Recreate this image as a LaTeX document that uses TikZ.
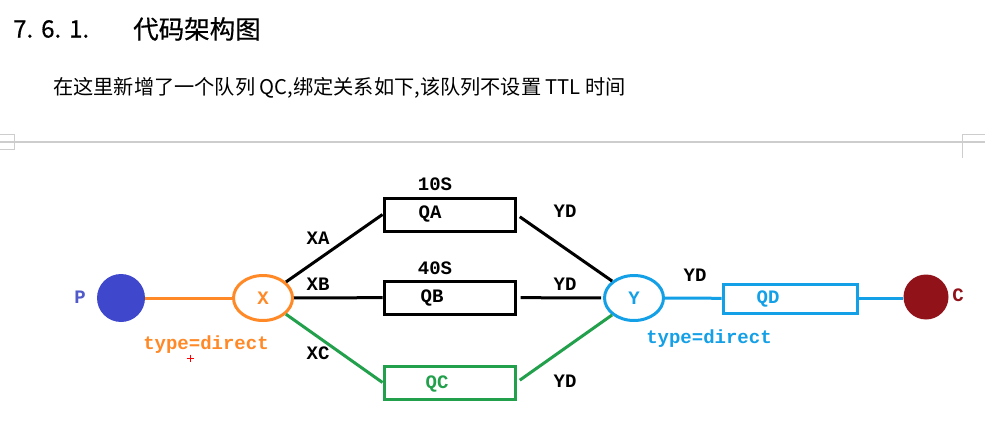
\documentclass[tikz,border=0pt]{standalone}
\usepackage{fontspec}
\setmainfont{Liberation Sans}
\newfontfamily\cjk{Noto Sans CJK SC}
\newfontfamily\cjkhead{Noto Sans CJK SC}[FakeBold=0.6]
\newfontfamily\monob{Liberation Mono}[BoldFont={Liberation Mono Bold}]
\usetikzlibrary{shapes.geometric}
\definecolor{pblue}{RGB}{63,72,204}
\definecolor{ptext}{RGB}{80,90,200}
\definecolor{xorange}{RGB}{255,137,39}
\definecolor{qgreen}{RGB}{34,160,75}
\definecolor{ysky}{RGB}{20,160,230}
\definecolor{cred}{RGB}{145,18,25}
\definecolor{rulegray}{RGB}{205,205,205}
\tikzset{
  lbl/.style={font=\monob\bfseries\fontsize{19}{19}\selectfont, inner sep=0pt},
  qbox/.style={draw, line width=3pt, minimum width=131pt, minimum height=33pt, inner sep=0pt},
  exch/.style={ellipse, draw, line width=3pt, minimum width=59pt, minimum height=45pt, inner sep=0pt},
  conn/.style={line width=3pt},
}
\begin{document}
\begin{tikzpicture}[x=1pt,y=-1pt]
\useasboundingbox (0,0) rectangle (985,433);
\fill[white] (0,0) rectangle (985,433);
% heading
\node[anchor=west, inner sep=0pt, font=\cjkhead\fontsize{24}{24}\selectfont] (num) at (13,29) {7.\,\,6.\,\,1.};
\node[anchor=west, inner sep=0pt, font=\cjkhead\fontsize{25.5}{25.5}\selectfont] (head) at (133,29) {代码架构图};
\node[anchor=west, inner sep=0pt, font=\cjk\fontsize{20.2}{20.2}\selectfont] (body) at (53,88) {在这里新增了一个队列 QC,绑定关系如下,该队列不设置 TTL 时间};
% page rule and corner marks
\draw[rulegray, line width=1.2pt] (0,142) -- (985,142);
\draw[rulegray, line width=0.8pt] (0,134) -- (14,134) -- (14,149) -- (0,149);
\draw[rulegray, line width=0.8pt] (985,134) -- (962,134) -- (962,158);
% nodes
\node[circle, fill=pblue, minimum size=48pt, inner sep=0pt] (P) at (121,298) {};
\node[lbl, text=ptext] (Pl) at (80,297) {P};
\node[exch, draw=xorange, text=xorange, lbl] (X) at (263,298) {X};
\node[lbl, text=xorange] (Xt) at (206,345) {type=direct};
\draw[red, line width=1pt] (186.5,358) -- (193.5,358) (190,354.5) -- (190,361.5);
\node[qbox] (QA) at (449.5,214.5) {};
\node[lbl] (QAt) at (430,214) {QA};
\node[lbl] (QAs) at (435,184) {10S};
\node[qbox] (QB) at (449.5,297.5) {};
\node[lbl] (QBt) at (432,298) {QB};
\node[lbl] (QBs) at (435,268) {40S};
\node[qbox, draw=qgreen] (QC) at (449.5,382.5) {};
\node[lbl, text=qgreen] (QCt) at (437,384) {QC};
\node[exch, draw=ysky, text=ysky, lbl] (Y) at (634,298) {Y};
\node[lbl, text=ysky] (Yt) at (709,339) {type=direct};
\node[qbox, draw=ysky, minimum width=134pt, minimum height=29pt] (QD) at (790,298.5) {};
\node[lbl, text=ysky] (QDt) at (768,299) {QD};
\node[circle, fill=cred, minimum size=45pt, inner sep=0pt] (C) at (926,297) {};
\node[lbl, text=cred] (Cl) at (958,295) {C};
% binding labels
\node[lbl] (XA) at (318,238) {XA};
\node[lbl] (XB) at (318,284) {XB};
\node[lbl] (XC) at (318,353) {XC};
\node[lbl] (YD1) at (565,211) {YD};
\node[lbl] (YD2) at (565,284) {YD};
\node[lbl] (YD3) at (565,381) {YD};
\node[lbl] (YD4) at (695,275) {YD};
% connectors
\draw[conn, xorange] (P) -- (X);
\draw[conn] (X) -- (QA.west);
\draw[conn] (X) -- (QB);
\draw[conn, qgreen] (X) -- (QC.west);
\draw[conn, shorten <=4pt] (QA.east) -- (Y.north west);
\draw[conn, shorten <=4pt, shorten >=2pt] (QB) -- (Y);
\draw[conn, qgreen, shorten <=4pt] (QC.east) -- (Y.south west);
\draw[conn, ysky] (Y) -- (QD);
\draw[conn, ysky] (QD.east) -- (C.west |- QD.east);
\end{tikzpicture}
\end{document}
